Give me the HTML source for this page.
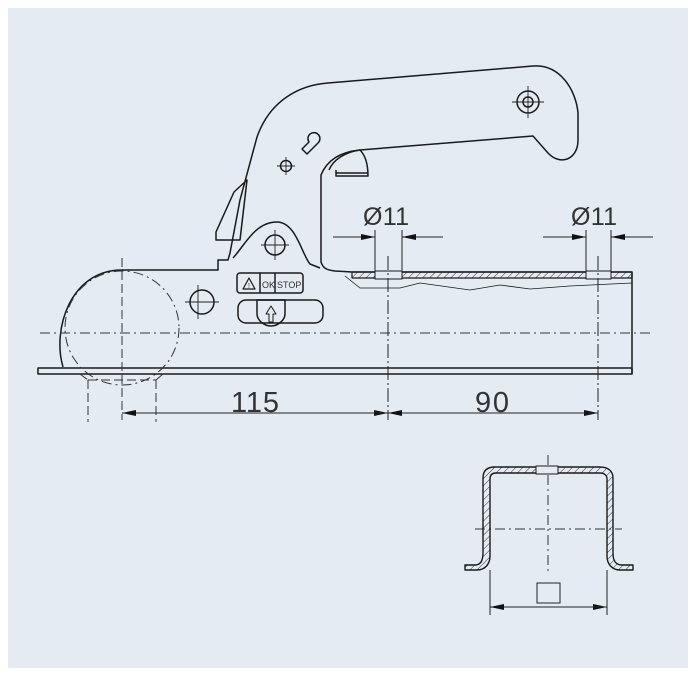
<!DOCTYPE html>
<html><head><meta charset="utf-8"><style>
html,body{margin:0;padding:0;background:#fff;}
svg{display:block;}
text{font-family:"Liberation Sans",sans-serif;fill:#333;}
</style></head><body>
<svg width="696" height="677" viewBox="0 0 696 677" xmlns="http://www.w3.org/2000/svg">
<defs>
<marker id="ar" viewBox="0 0 14 6" refX="14" refY="3" markerWidth="14" markerHeight="6" orient="auto" markerUnits="userSpaceOnUse"><path d="M0,0L14,3L0,6z" fill="#111"/></marker>
<pattern id="h" width="5" height="5" patternUnits="userSpaceOnUse" patternTransform="rotate(45)"><line x1="0" y1="0" x2="0" y2="5" stroke="#333" stroke-width="1"/></pattern>
</defs>
<rect x="8" y="8" width="680" height="660" fill="#e4ebf3"/>
<g fill="none" stroke="#1a1a1a" stroke-width="1.5" stroke-linejoin="round">
<rect x="38" y="368" width="594" height="6" fill="#e4ebf3"/>
<path d="M63,367 C52,330 70,270 122,270 L140,270 L218,270 L218,260 L228,260 L230,253 L240,200 L257,137 C270,100 300,85 328,83 L533,66 C560,64 576,90 578,113 L578,140 C578,160 560,166 548,153 L533,136 L360,150 C340,152 327,160 321,175 L321,262 C323,268 326,270 335,271 L352,272"/>
<path d="M216,240 L216,232 L234,192 L247,180 L240,240 Z"/>
<path d="M233,258 C245,245 255,222 277,222 C296,222 302,255 310,264 L320,268"/>
<circle cx="275" cy="245" r="10"/>
<path d="M309,142 A6,6 0 1 1 318,143 L307,154 L302,149 Z"/>
<circle cx="286" cy="166" r="5.5"/>
<circle cx="528" cy="102" r="11"/><circle cx="528" cy="102" r="5"/>
<path d="M329,170 C333,160 345,152 360,150 C366,156 368,165 368,176 L336,176 L336,170"/>
<line x1="336" y1="173" x2="368" y2="173"/>
<circle cx="202" cy="302" r="12"/>
<rect x="237" y="273" width="66" height="20" rx="3"/>
<line x1="260" y1="273" x2="260" y2="293"/><line x1="275" y1="273" x2="275" y2="293"/>
<path d="M243,289 L249,278 L255,289 Z" stroke-width="1.2"/>
<rect x="238" y="300" width="85" height="23" rx="8"/>
<path d="M257,300 L285,300 L285,314 C285,320 278,326 271,326 C264,326 257,320 257,314 Z"/>
<path d="M269,322 L269,314 L266,314 L271,306 L276,314 L273,314 L273,322 Z" stroke-width="1"/>
<path d="M352,272 L632,272 L632,374"/>
<rect x="352" y="272" width="280" height="6" fill="url(#h)" stroke-width="1.2"/>
<rect x="375" y="271" width="27" height="8" fill="#e4ebf3" stroke-width="1"/>
<rect x="586" y="271" width="25" height="8" fill="#e4ebf3" stroke-width="1"/>
<path d="M345,276 L360,288 L400,288 L420,283 L470,290 L500,285 L530,289 L570,286 L632,283" stroke-width="0.8"/>
</g>
<g fill="none" stroke="#333" stroke-width="1" stroke-dasharray="10,4,2,4">
<circle cx="122" cy="328" r="57"/>
<line x1="40" y1="333" x2="652" y2="333"/>
<line x1="548" y1="455" x2="548" y2="572"/>
<line x1="475" y1="529" x2="622" y2="529"/>
</g>
<g fill="none" stroke="#333" stroke-width="1" stroke-dasharray="9,4">
<line x1="122" y1="258" x2="122" y2="420"/>
<line x1="88" y1="380" x2="88" y2="422"/>
<line x1="156" y1="380" x2="156" y2="422"/>
<line x1="88" y1="380" x2="156" y2="380"/>
<line x1="80" y1="374" x2="88" y2="380"/><line x1="163" y1="374" x2="156" y2="380"/>
</g>
<g stroke="#222" stroke-width="1" fill="none">
<line x1="388" y1="256" x2="388" y2="420" stroke-dasharray="14,3,2,3"/>
<line x1="598" y1="256" x2="598" y2="420" stroke-dasharray="14,3,2,3"/>
<line x1="122" y1="413" x2="388" y2="413" marker-end="url(#ar)"/>
<line x1="388" y1="413" x2="122" y2="413" marker-end="url(#ar)"/>
<line x1="388" y1="413" x2="598" y2="413" marker-end="url(#ar)"/>
<line x1="598" y1="413" x2="388" y2="413" marker-end="url(#ar)"/>
<line x1="375" y1="230" x2="375" y2="271"/><line x1="402" y1="230" x2="402" y2="271"/>
<line x1="586" y1="230" x2="586" y2="271"/><line x1="611" y1="230" x2="611" y2="271"/>
<line x1="333" y1="237" x2="375" y2="237" marker-end="url(#ar)"/>
<line x1="443" y1="237" x2="402" y2="237" marker-end="url(#ar)"/>
<line x1="543" y1="237" x2="586" y2="237" marker-end="url(#ar)"/>
<line x1="653" y1="237" x2="611" y2="237" marker-end="url(#ar)"/>
<line x1="490" y1="570" x2="490" y2="615"/><line x1="607" y1="570" x2="607" y2="615"/>
<line x1="490" y1="607" x2="607" y2="607" marker-end="url(#ar)"/>
<line x1="607" y1="607" x2="490" y2="607" marker-end="url(#ar)"/>
<rect x="537" y="583" width="23" height="20"/>
</g>
<g stroke="#222" stroke-width="0.9">
<line x1="198" y1="285" x2="198" y2="319"/><line x1="185" y1="302" x2="219" y2="302"/>
<line x1="275" y1="230" x2="275" y2="260"/><line x1="261" y1="245" x2="289" y2="245"/>
<line x1="286" y1="157" x2="286" y2="175"/><line x1="277" y1="166" x2="295" y2="166"/>
<line x1="528" y1="86" x2="528" y2="118"/><line x1="512" y1="102" x2="544" y2="102"/>
</g>
<g fill="none" stroke="#1a1a1a" stroke-width="1.4" stroke-linejoin="round">
<path d="M465,565 L475,565 C481,565 483,560 483,553 L483,478 C483,470 488,467 495,467 L600,467 C608,467 613,471 613,478 L613,553 C613,560 615,565 622,565 L633,565 L633,570 L620,570 C612,570 607,564 607,556 L607,479 C607,475 604,473 600,473 L496,473 C492,473 490,475 490,479 L490,556 C490,564 485,570 477,570 L465,570 Z" fill="url(#h)"/>
<rect x="536" y="466" width="22" height="8" fill="#e4ebf3" stroke-width="1"/>
</g>
<text x="255" y="412" font-size="29" text-anchor="middle" textLength="48">115</text>
<text x="492" y="412" font-size="29" text-anchor="middle" textLength="34">90</text>
<text x="386" y="225" font-size="25" text-anchor="middle" textLength="46">Ø11</text>
<text x="594" y="225" font-size="25" text-anchor="middle" textLength="46">Ø11</text>
<text x="262" y="288" font-size="9">OK</text>
<text x="277" y="288" font-size="9">STOP</text>
<text x="249" y="288" font-size="7" text-anchor="middle">!</text>
</svg>
</body></html>
